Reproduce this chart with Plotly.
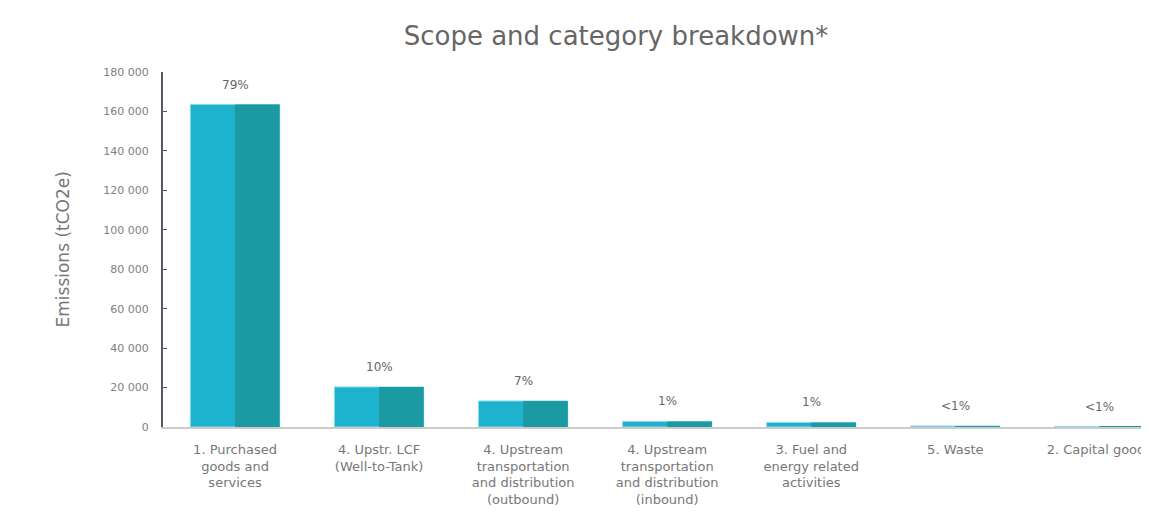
import plotly.graph_objects as go

categories = [
    "1. Purchased<br>goods and<br>services",
    "4. Upstr. LCF<br>(Well-to-Tank)",
    "4. Upstream<br>transportation<br>and distribution<br>(outbound)",
    "4. Upstream<br>transportation<br>and distribution<br>(inbound)",
    "3. Fuel and<br>energy related<br>activities",
    "5. Waste",
    "2. Capital goods",
]
emissions = [163500, 20300, 13200, 2800, 2300, 500, 250]
pct_labels = ["79%", "10%", "7%", "1%", "1%", "<1%", "<1%"]
y_ticks = [0, 20000, 40000, 60000, 80000, 100000, 120000, 140000, 160000, 180000]
y_ticktext = ["0", "20 000", "40 000", "60 000", "80 000", "100 000", "120 000", "140 000", "160 000", "180 000"]

FONT = "DejaVu Sans, Arial, sans-serif"

fig = go.Figure()
fig.add_trace(go.Bar(
    x=categories, y=emissions, width=0.62, offset=-0.31,
    marker=dict(color="#1db3cf", line=dict(color="#8fd9e6", width=1)),
    showlegend=False, hoverinfo="skip",
))
fig.add_trace(go.Bar(
    x=categories, y=emissions, width=0.31, offset=0,
    marker=dict(color="#1c9aa3", line=dict(width=0)),
    showlegend=False, hoverinfo="skip",
))
for cat, val, lab in zip(categories, emissions, pct_labels):
    fig.add_annotation(
        x=cat, y=val, text=lab, showarrow=False, yanchor="bottom", yshift=11,
        font=dict(size=12, color="#666666", family=FONT),
    )

fig.update_layout(
    width=1149, height=526,
    barmode="overlay",
    plot_bgcolor="white", paper_bgcolor="white",
    margin=dict(l=155, r=0, t=64, b=107, autoexpand=False),
    font=dict(family=FONT, color="#777777", size=12),
    title=dict(text="Scope and category breakdown*", x=608/1149, xanchor="center",
               y=1-28/526, yanchor="middle", font=dict(size=26, color="#666666", family=FONT)),
)
fig.update_yaxes(
    range=[0, 180000], tickvals=y_ticks, ticktext=y_ticktext,
    showgrid=False, zeroline=False, automargin=False,
    showline=True, linecolor="#5e5566", linewidth=2,
    ticks="inside", ticklen=4, tickcolor="#5e5566", ticklabelstandoff=10,
    tickfont=dict(size=11, color="#808080", family=FONT),
)
fig.update_xaxes(
    range=[-0.5, 6.40], automargin=False,
    showline=True, linecolor="#cccccc", linewidth=2,
    ticks="", ticklabelstandoff=9,
    tickfont=dict(size=13, color="#777777", family=FONT), tickangle=0,
)
fig.add_annotation(
    text="Emissions (tCO2e)", textangle=-90, showarrow=False,
    xref="paper", yref="paper", x=(54-155)/994, y=0.5,
    xanchor="center", yanchor="middle", font=dict(size=17, color="#777777", family=FONT),
)

fig.write_html("out.html")
